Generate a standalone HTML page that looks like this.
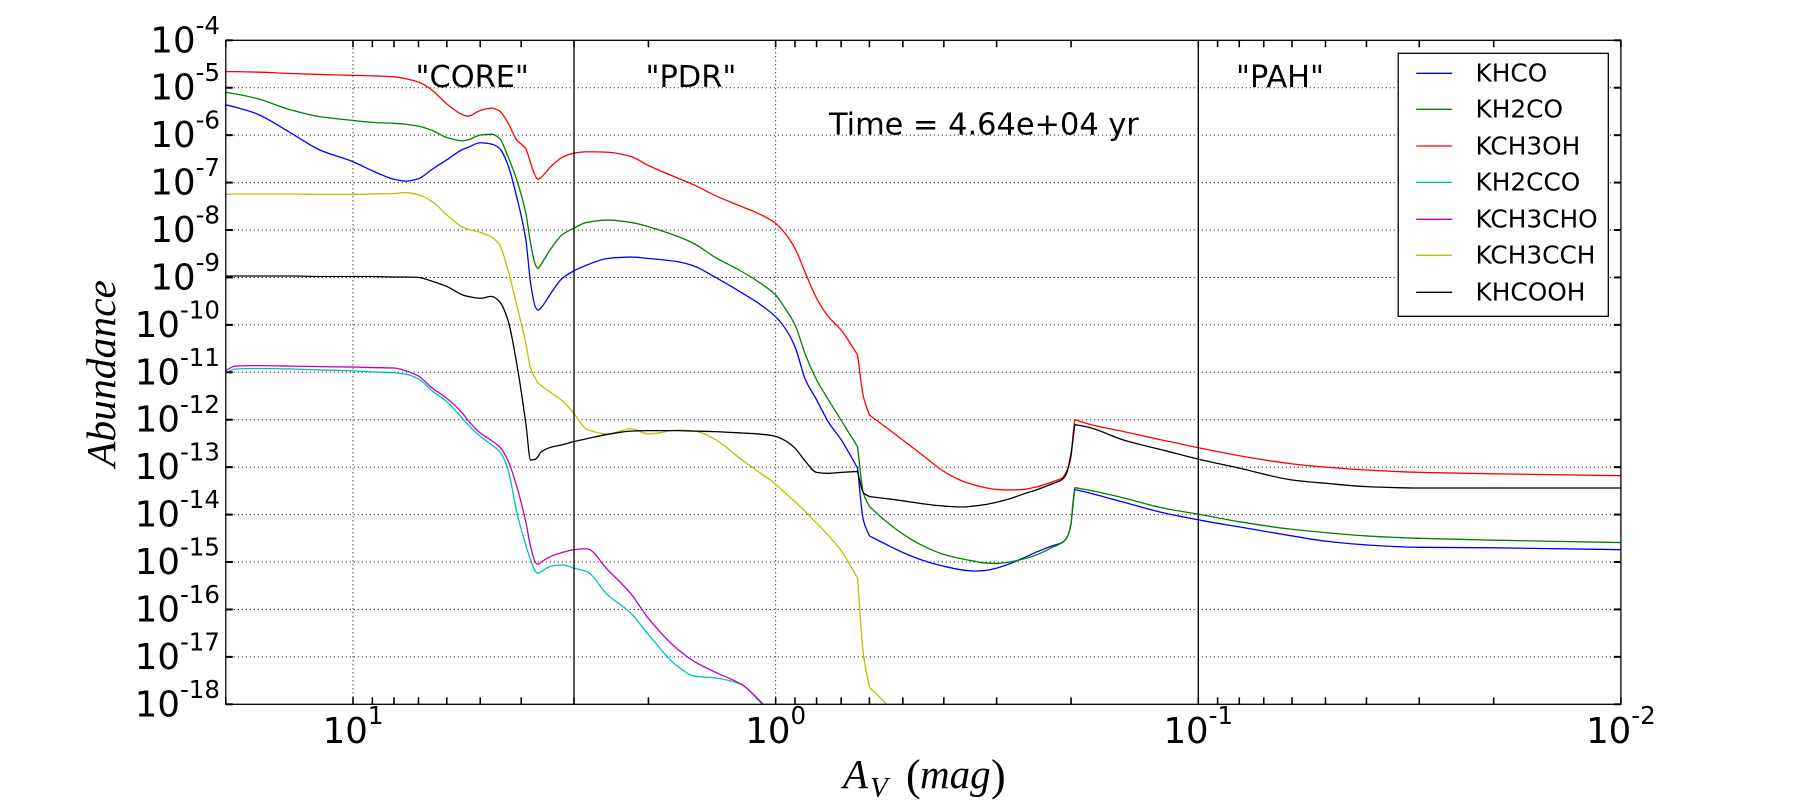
<!DOCTYPE html>
<html>
<head>
<meta charset="utf-8">
<title>Abundance vs AV</title>
<style>
html,body{margin:0;padding:0;background:#fff;}
svg{display:block;}
text{font-family:"DejaVu Sans","Liberation Sans",sans-serif;fill:#000;}
.serif{font-family:"Liberation Serif",serif;font-style:italic;}
.upright{font-family:"Liberation Serif",serif;}
.note{font-size:30.4px;}
.leg{font-size:24.8px;}
</style>
</head>
<body>
<svg id="chart" xmlns="http://www.w3.org/2000/svg" width="1800" height="800" viewBox="0 0 1800 800">
  <defs><clipPath id="plot-clip"><rect x="225.8" y="40.3" width="1395.1" height="664"/></clipPath></defs>
  <rect x="0" y="0" width="1800" height="800" fill="#fff"/>
  <g id="grid"></g>
  <g id="series" clip-path="url(#plot-clip)"></g>
  <g id="regions"></g>
  <g id="ticks"></g>
  <rect x="225.8" y="40.3" width="1395.1" height="664" fill="none" stroke="#000" stroke-width="1.3"/>
  <g id="ylabels"></g>
  <g id="xlabels"></g>

  <text class="note" x="415.5" y="87">"CORE"</text>
  <text class="note" x="645.5" y="87">"PDR"</text>
  <text class="note" x="1236" y="87">"PAH"</text>
  <text class="note" x="829" y="134.5">Time = 4.64e+04 yr</text>

  <text class="serif" font-size="41" transform="translate(115,467) rotate(-90)" textLength="187" lengthAdjust="spacingAndGlyphs">Abundance</text>
  <g>
    <text class="serif" font-size="41" x="843" y="788">A</text>
    <text class="serif" font-size="29" x="870" y="797">V</text>
    <text class="upright" font-size="44" x="906" y="790">(</text>
    <text class="serif" font-size="41" x="920" y="788">mag</text>
    <text class="upright" font-size="44" x="991" y="790">)</text>
  </g>

  <g>
    <rect x="1398.2" y="53.3" width="210.1" height="263" fill="#fff" stroke="#000" stroke-width="1.3"/>
    <g><line x1="1416.2" x2="1452.2" y1="73.3" y2="73.3" stroke="#0000ff" stroke-width="1.3"/><text class="leg" x="1475.5" y="81.7">KHCO</text></g>
    <g><line x1="1416.2" x2="1452.2" y1="109.3" y2="109.3" stroke="#008000" stroke-width="1.3"/><text class="leg" x="1475.5" y="117.7">KH2CO</text></g>
    <g><line x1="1416.2" x2="1452.2" y1="146" y2="146" stroke="#ff0000" stroke-width="1.3"/><text class="leg" x="1475.5" y="154.4">KCH3OH</text></g>
    <g><line x1="1416.2" x2="1452.2" y1="182.3" y2="182.3" stroke="#00bfbf" stroke-width="1.3"/><text class="leg" x="1475.5" y="190.7">KH2CCO</text></g>
    <g><line x1="1416.2" x2="1452.2" y1="219.3" y2="219.3" stroke="#bf00bf" stroke-width="1.3"/><text class="leg" x="1475.5" y="227.7">KCH3CHO</text></g>
    <g><line x1="1416.2" x2="1452.2" y1="255.3" y2="255.3" stroke="#bfbf00" stroke-width="1.3"/><text class="leg" x="1475.5" y="263.7">KCH3CCH</text></g>
    <g><line x1="1416.2" x2="1452.2" y1="292.3" y2="292.3" stroke="#000" stroke-width="1.3"/><text class="leg" x="1475.5" y="300.7">KHCOOH</text></g>
  </g>
</svg>
<script>
// Visual extinction grid (mag); each series holds log10(abundance) at these points
var avGrid = [20,19,17,14,12,10,
  9,8,7.5,7,6.5,
  6,5.5,5.35,5,4.7,
  4.5,4.3,4.1,3.9,3.8,
  3.7,3.65,3.6,3.4,3.2,
  3,2.8,2.5,2.2,2,
  1.7,1.55,1.4,1.2,1.1,1,
  0.95,0.9,0.85,0.8,0.75,
  0.7,0.64,0.62,0.6,0.55,
  0.5,0.45,0.4,0.36,0.34,
  0.32,0.3,0.28,0.26,0.24,
  0.22,0.21,0.205,0.2,0.198,
  0.196,0.18,0.15,0.12,0.1,
  0.08,0.06,0.05,0.04,0.03,
  0.02,0.01];
// Grid points where the curves have a sharp corner
var avCorners = [0.64,0.6,0.196];
var khco = [-5.36,-5.41,-5.54,-5.96,-6.31,-6.56,
  -6.75,-6.93,-6.97,-6.92,-6.72,
  -6.52,-6.30,-6.26,-6.16,-6.19,
  -6.28,-6.63,-7.30,-8.21,-9.12,
  -9.63,-9.69,-9.65,-9.33,-9.02,
  -8.86,-8.74,-8.60,-8.57,-8.60,
  -8.67,-8.77,-8.98,-9.33,-9.54,-9.83,
  -10.07,-10.46,-11.16,-11.58,-12.05,
  -12.42,-13.02,-14.12,-14.45,-14.62,
  -14.80,-14.96,-15.09,-15.17,-15.19,
  -15.18,-15.13,-15.04,-14.92,-14.78,
  -14.65,-14.59,-14.50,-14.19,-13.80,
  -13.47,-13.55,-13.74,-13.97,-14.11,
  -14.26,-14.45,-14.56,-14.64,-14.69,
  -14.70,-14.74];
var kh2co = [-5.10,-5.13,-5.22,-5.47,-5.61,-5.69,
  -5.73,-5.75,-5.77,-5.81,-5.90,
  -6.05,-6.12,-6.10,-6.00,-5.98,
  -6.07,-6.45,-6.94,-7.65,-8.28,
  -8.74,-8.81,-8.74,-8.39,-8.10,
  -7.96,-7.84,-7.79,-7.84,-7.93,
  -8.14,-8.30,-8.56,-8.88,-9.09,-9.37,
  -9.65,-10.00,-10.63,-11.16,-11.58,
  -12.01,-12.57,-13.55,-13.83,-14.13,
  -14.41,-14.65,-14.84,-14.94,-14.98,
  -15.02,-15.03,-15.00,-14.94,-14.84,
  -14.68,-14.59,-14.50,-14.19,-13.77,
  -13.43,-13.49,-13.65,-13.87,-13.99,
  -14.15,-14.31,-14.38,-14.45,-14.50,
  -14.54,-14.59];
var kch3oh = [-4.66,-4.66,-4.67,-4.70,-4.72,-4.74,
  -4.75,-4.77,-4.81,-4.88,-5.05,
  -5.34,-5.57,-5.60,-5.48,-5.43,
  -5.49,-5.74,-6.10,-6.29,-6.59,
  -6.87,-6.93,-6.90,-6.66,-6.47,
  -6.38,-6.35,-6.36,-6.45,-6.64,
  -6.91,-7.06,-7.26,-7.51,-7.65,-7.86,
  -8.07,-8.39,-8.91,-9.44,-9.83,
  -10.11,-10.63,-11.51,-11.90,-12.15,
  -12.43,-12.74,-13.09,-13.30,-13.37,
  -13.43,-13.47,-13.48,-13.47,-13.41,
  -13.30,-13.23,-13.09,-12.78,-12.35,
  -12.00,-12.10,-12.25,-12.44,-12.59,
  -12.76,-12.93,-13.00,-13.06,-13.11,
  -13.14,-13.18];
var kh2cco = [-11.01,-10.93,-10.92,-10.93,-10.95,-10.97,
  -10.99,-11.01,-11.04,-11.14,-11.39,
  -11.62,-11.98,-12.10,-12.35,-12.53,
  -12.67,-13.04,-13.94,-14.65,-14.95,
  -15.20,-15.24,-15.21,-15.09,-15.06,
  -15.13,-15.20,-15.69,-16.08,-16.53,
  -17.21,-17.41,-17.44,-17.59,-17.91,-18.30,
  null,null,null,null,null,
  null,null,null,null,null,
  null,null,null,null,null,
  null,null,null,null,null,
  null,null,null,null,null,
  null,null,null,null,null,
  null,null,null,null,null,
  null,null];
var kch3cho = [-10.96,-10.87,-10.86,-10.87,-10.88,-10.89,
  -10.90,-10.91,-10.97,-11.08,-11.33,
  -11.55,-11.87,-12.01,-12.28,-12.44,
  -12.57,-12.86,-13.40,-14.16,-14.68,
  -15.01,-15.05,-15.01,-14.88,-14.80,
  -14.74,-14.72,-15.16,-15.67,-16.19,
  -16.85,-17.11,-17.31,-17.59,-17.89,-18.30,
  null,null,null,null,null,
  null,null,null,null,null,
  null,null,null,null,null,
  null,null,null,null,null,
  null,null,null,null,null,
  null,null,null,null,null,
  null,null,null,null,null,
  null,null];
var kch3cch = [-7.25,-7.24,-7.24,-7.24,-7.25,-7.25,
  -7.24,-7.23,-7.21,-7.26,-7.40,
  -7.68,-7.94,-7.98,-8.05,-8.15,
  -8.31,-8.84,-9.58,-10.39,-10.92,
  -11.13,-11.22,-11.27,-11.43,-11.60,
  -11.87,-12.20,-12.30,-12.19,-12.30,
  -12.22,-12.24,-12.40,-12.85,-13.09,-13.36,
  -13.54,-13.73,-13.94,-14.18,-14.44,
  -14.76,-15.34,-16.95,-17.64,-17.97,
  -18.40,null,null,null,null,
  null,null,null,null,null,
  null,null,null,null,null,
  null,null,null,null,null,
  null,null,null,null,null,
  null,null];
var khcooh = [-8.97,-8.97,-8.97,-8.97,-8.98,-8.98,
  -8.98,-8.99,-8.99,-9.00,-9.08,
  -9.19,-9.37,-9.40,-9.44,-9.40,
  -9.51,-9.90,-10.81,-12.08,-12.85,
  -12.83,-12.78,-12.69,-12.58,-12.53,
  -12.46,-12.40,-12.31,-12.24,-12.23,
  -12.23,-12.24,-12.25,-12.28,-12.30,-12.35,
  -12.44,-12.60,-12.88,-13.11,-13.13,
  -13.11,-13.09,-13.54,-13.62,-13.66,
  -13.71,-13.77,-13.82,-13.84,-13.82,
  -13.79,-13.74,-13.67,-13.57,-13.47,
  -13.34,-13.26,-13.13,-12.71,-12.43,
  -12.10,-12.17,-12.43,-12.65,-12.83,
  -13.02,-13.27,-13.34,-13.41,-13.44,
  -13.44,-13.44];
var seriesNames = ['khco','kh2co','kch3oh','kh2cco','kch3cho','kch3cch','khcooh'];
var seriesColors = ['#0000ff','#008000','#ff0000','#00bfbf','#bf00bf','#bfbf00','#000000'];
var seriesValues = [khco,kh2co,kch3oh,kh2cco,kch3cho,kch3cch,khcooh];
var yTickExponents = [-4,-5,-6,-7,-8,-9,-10,-11,-12,-13,-14,-15,-16,-17,-18];
var xMajorTicks = [10,1,0.1,0.01];
var xMajorExponentLabels = ['1','0','-1','-2'];
var xMinorTicks = [20,9,8,7,6,5,4,3,2,0.9,0.8,0.7,0.6,0.5,0.4,0.3,0.2,0.09,0.08,0.07,0.06,0.05,0.04,0.03,0.02];
var regionBoundaries = [3,0.1];

var NS = 'http://www.w3.org/2000/svg';
var L = 225.8, R = 1620.9, T = 40.3, B = 704.3;
var xMax = 20, xMin = 0.01, yTop = -4, yBot = -18;
function xAxis(av){
  return L + (Math.log10(xMax) - Math.log10(av)) / (Math.log10(xMax) - Math.log10(xMin)) * (R - L);
}
function yAxis(logA){
  return T + (yTop - logA) / (yTop - yBot) * (B - T);
}
function makeLine(parent, x1, y1, x2, y2, stroke, width, dash){
  var el = document.createElementNS(NS, 'line');
  el.setAttribute('x1', x1);
  el.setAttribute('y1', y1);
  el.setAttribute('x2', x2);
  el.setAttribute('y2', y2);
  el.setAttribute('stroke', stroke);
  el.setAttribute('stroke-width', width);
  if (dash) el.setAttribute('stroke-dasharray', dash);
  parent.appendChild(el);
  return el;
}
function makeTickLabel(parent, x, y, anchor, base, sup, rise){
  var t = document.createElementNS(NS, 'text');
  t.setAttribute('x', x);
  t.setAttribute('y', y);
  t.setAttribute('text-anchor', anchor);
  var a = document.createElementNS(NS, 'tspan');
  a.setAttribute('font-size', '35.5');
  a.textContent = base;
  var b = document.createElementNS(NS, 'tspan');
  b.setAttribute('font-size', '24.5');
  b.setAttribute('dy', rise);
  b.textContent = sup;
  t.appendChild(a);
  t.appendChild(b);
  parent.appendChild(t);
  return t;
}
// Monotone cubic path through pixel points (no overshoot between data points)
function monotonePath(pts){
  var n = pts.length, i;
  var d = 'M' + pts[0][0].toFixed(2) + ' ' + pts[0][1].toFixed(2);
  if (n < 2) return d;
  var h = [], s = [], m = [];
  for (i = 0; i < n - 1; i++) {
    h[i] = pts[i + 1][0] - pts[i][0];
    s[i] = (pts[i + 1][1] - pts[i][1]) / h[i];
  }
  m[0] = s[0];
  m[n - 1] = s[n - 2];
  for (i = 1; i < n - 1; i++) {
    if (s[i - 1] * s[i] <= 0) { m[i] = 0; }
    else {
      var w1 = 2 * h[i] + h[i - 1], w2 = h[i] + 2 * h[i - 1];
      m[i] = (w1 + w2) / (w1 / s[i - 1] + w2 / s[i]);
    }
  }
  for (i = 0; i < n - 1; i++) {
    d += 'C' + (pts[i][0] + h[i] / 3).toFixed(2) + ' ' + (pts[i][1] + m[i] * h[i] / 3).toFixed(2) +
         ' ' + (pts[i + 1][0] - h[i] / 3).toFixed(2) + ' ' + (pts[i + 1][1] - m[i + 1] * h[i] / 3).toFixed(2) +
         ' ' + pts[i + 1][0].toFixed(2) + ' ' + pts[i + 1][1].toFixed(2);
  }
  return d;
}
var grid = document.getElementById('grid');
var ticks = document.getElementById('ticks');
var ylabels = document.getElementById('ylabels');
var xlabels = document.getElementById('xlabels');
var regions = document.getElementById('regions');
var seriesGroup = document.getElementById('series');

yTickExponents.forEach(function(e){
  var y = yAxis(e);
  if (e !== yTop && e !== yBot) {
    var g = makeLine(grid, L, y, R, y, '#000', 1, '1 3');
    
    
  }
  var t1 = makeLine(ticks, L, y, L + 7, y, '#000', 2);
  
  
  var t2 = makeLine(ticks, R - 7, y, R, y, '#000', 2);
  
  
  var lab = makeTickLabel(ylabels, 220, y + 12, 'end', '10', String(e), '-18.5');
  
  
});
xMajorTicks.concat(xMinorTicks).forEach(function(v){
  var x = xAxis(v);
  var t1 = makeLine(ticks, x, B, x, B - 7, '#000', 1.6);
  
  
  var t2 = makeLine(ticks, x, T, x, T + 7, '#000', 1.6);
  
  
});
xMajorTicks.forEach(function(v, i){
  var x = xAxis(v);
  if (v > xMin) {
    var g = makeLine(grid, x, T, x, B, '#000', 1, '1 3');
    
    
  }
  var lab = makeTickLabel(xlabels, x, 743, 'middle', '10', xMajorExponentLabels[i], '-19');
  
  
});
regionBoundaries.forEach(function(v){
  var x = xAxis(v);
  var l = makeLine(regions, x, T, x, B, '#000', 1.3);
  
  
});
seriesValues.forEach(function(vals, s){
  var d = '';
  var run = [];
  vals.forEach(function(v, i){
    if (v === null) {
      if (run.length) d += monotonePath(run);
      run = [];
      return;
    }
    var pt = [xAxis(avGrid[i]), yAxis(v)];
    run.push(pt);
    if (avCorners.indexOf(avGrid[i]) >= 0) {
      d += monotonePath(run);
      run = [pt];
    }
  });
  if (run.length > 1) d += monotonePath(run);
  var p = document.createElementNS(NS, 'path');
  p.setAttribute('d', d);
  p.setAttribute('fill', 'none');
  p.setAttribute('stroke', seriesColors[s]);
  p.setAttribute('stroke-width', '1.3');
  p.setAttribute('stroke-linejoin', 'round');
  
  
  seriesGroup.appendChild(p);
});
</script>
</body>
</html>
